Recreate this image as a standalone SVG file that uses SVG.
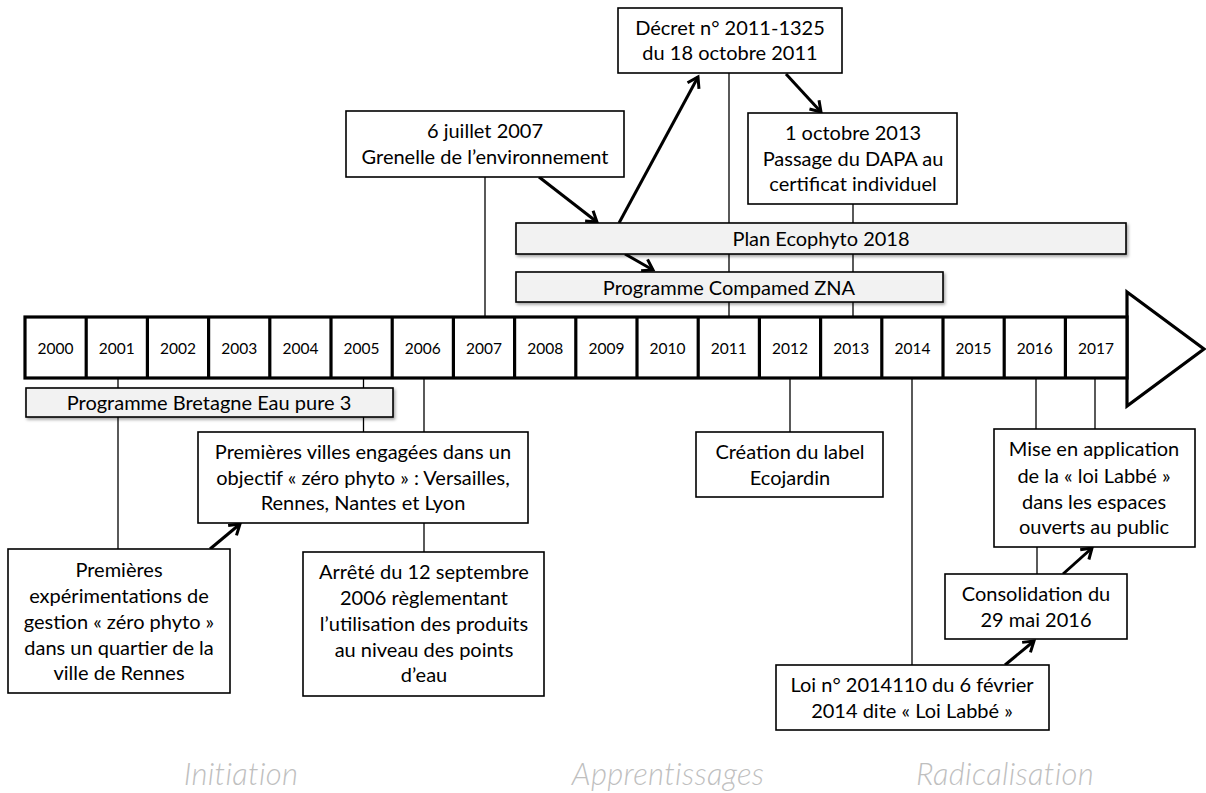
<svg xmlns="http://www.w3.org/2000/svg" width="1206" height="793" viewBox="0 0 1206 793">
<defs>
<style>
.box{fill:#ffffff;stroke:#000;stroke-width:1.6}
.bar{fill:#f2f2f2;stroke:#000;stroke-width:1.6;filter:url(#sh)}
.t{font-family:Lato,"Open Sans","Liberation Sans",sans-serif;font-size:20px;fill:#000;text-anchor:middle}
.y{font-family:Lato,"Open Sans","Liberation Sans",sans-serif;font-size:15.5px;fill:#000;text-anchor:middle}
.ph{font-family:Lato,"Open Sans","Liberation Sans",sans-serif;font-size:31px;font-style:italic;font-weight:300;fill:#bfbfbf;text-anchor:middle;letter-spacing:0.3px}
.c{stroke:#000;stroke-width:1.3;fill:none}
.a{stroke:#000;stroke-width:3;fill:none;marker-end:url(#ah)}
.tl{fill:#fff;stroke:#000;stroke-width:3.2}
</style>
<filter id="sh" x="-5%" y="-30%" width="110%" height="170%">
<feDropShadow dx="1.5" dy="2" stdDeviation="1.5" flood-color="#000" flood-opacity="0.35"/>
</filter>
<marker id="ah" viewBox="0 0 16 16" refX="13" refY="8" markerWidth="16" markerHeight="16" markerUnits="userSpaceOnUse" orient="auto">
<path d="M3,1.5 L13,8 L3,14.5" fill="none" stroke="#000" stroke-width="3" stroke-linejoin="miter"/>
</marker>
</defs>
<rect width="1206" height="793" fill="#ffffff"/>

<g id="connectors">
<line class="c" x1="485" y1="177" x2="485" y2="317"/>
<line class="c" x1="729" y1="73" x2="729" y2="317"/>
<line class="c" x1="853" y1="204" x2="853" y2="317"/>
<line class="c" x1="118" y1="378" x2="118" y2="549"/>
<line class="c" x1="363.5" y1="378" x2="363.5" y2="432"/>
<line class="c" x1="424" y1="378" x2="424" y2="552"/>
<line class="c" x1="790" y1="378" x2="790" y2="432"/>
<line class="c" x1="912" y1="378" x2="912" y2="665"/>
<line class="c" x1="1036" y1="378" x2="1036" y2="429"/>
<line class="c" x1="1095" y1="378" x2="1095" y2="429"/>
<line class="c" x1="1037" y1="547" x2="1037" y2="574"/>
<line class="a" x1="539" y1="177" x2="597" y2="222"/>
<line class="a" x1="619" y1="223" x2="698" y2="77"/>
<line class="a" x1="786" y1="74" x2="821" y2="112"/>
<line class="a" x1="625" y1="254" x2="653" y2="270"/>
<line class="a" x1="210" y1="549" x2="240" y2="524"/>
<line class="a" x1="1005" y1="665" x2="1034" y2="641"/>
<line class="a" x1="1063" y1="574" x2="1092" y2="548"/>
</g>

<g id="timeline">
<polygon class="tl" points="1127,292 1204,349 1127,406"/>
<rect class="tl" x="25" y="317" width="1102" height="61"/>
<g stroke="#000" stroke-width="3.2">
<line x1="86.2" y1="317" x2="86.2" y2="378"/>
<line x1="147.4" y1="317" x2="147.4" y2="378"/>
<line x1="208.6" y1="317" x2="208.6" y2="378"/>
<line x1="269.8" y1="317" x2="269.8" y2="378"/>
<line x1="331" y1="317" x2="331" y2="378"/>
<line x1="392.2" y1="317" x2="392.2" y2="378"/>
<line x1="453.4" y1="317" x2="453.4" y2="378"/>
<line x1="514.6" y1="317" x2="514.6" y2="378"/>
<line x1="575.8" y1="317" x2="575.8" y2="378"/>
<line x1="637" y1="317" x2="637" y2="378"/>
<line x1="698.2" y1="317" x2="698.2" y2="378"/>
<line x1="759.4" y1="317" x2="759.4" y2="378"/>
<line x1="820.6" y1="317" x2="820.6" y2="378"/>
<line x1="881.8" y1="317" x2="881.8" y2="378"/>
<line x1="943" y1="317" x2="943" y2="378"/>
<line x1="1004.2" y1="317" x2="1004.2" y2="378"/>
<line x1="1065.4" y1="317" x2="1065.4" y2="378"/>
</g>
<text class="y" x="55.6" y="353.5">2000</text>
<text class="y" x="116.8" y="353.5">2001</text>
<text class="y" x="178" y="353.5">2002</text>
<text class="y" x="239.2" y="353.5">2003</text>
<text class="y" x="300.4" y="353.5">2004</text>
<text class="y" x="361.6" y="353.5">2005</text>
<text class="y" x="422.8" y="353.5">2006</text>
<text class="y" x="484" y="353.5">2007</text>
<text class="y" x="545.2" y="353.5">2008</text>
<text class="y" x="606.4" y="353.5">2009</text>
<text class="y" x="667.6" y="353.5">2010</text>
<text class="y" x="728.8" y="353.5">2011</text>
<text class="y" x="790" y="353.5">2012</text>
<text class="y" x="851.2" y="353.5">2013</text>
<text class="y" x="912.4" y="353.5">2014</text>
<text class="y" x="973.6" y="353.5">2015</text>
<text class="y" x="1034.8" y="353.5">2016</text>
<text class="y" x="1096" y="353.5">2017</text>
</g>

<g id="decret">
<rect class="box" x="618" y="8" width="224" height="65"/>
<text class="t" x="730" y="35">Décret n° 2011-1325</text>
<text class="t" x="730" y="60">du 18 octobre 2011</text>
</g>
<g id="grenelle">
<rect class="box" x="346" y="111" width="278" height="66"/>
<text class="t" x="485" y="138">6 juillet 2007</text>
<text class="t" x="485" y="164">Grenelle de l’environnement</text>
</g>
<g id="dapa">
<rect class="box" x="748" y="113" width="209" height="91"/>
<text class="t" x="853" y="140">1 octobre 2013</text>
<text class="t" x="853" y="166">Passage du DAPA au</text>
<text class="t" x="853" y="191">certificat individuel</text>
</g>
<g id="ecophyto">
<rect class="bar" x="516" y="223" width="610" height="31"/>
<text class="t" x="821" y="245.5">Plan Ecophyto 2018</text>
</g>
<g id="compamed">
<rect class="bar" x="516" y="272" width="427" height="30"/>
<text class="t" x="729" y="294.5">Programme Compamed ZNA</text>
</g>
<g id="bretagne">
<rect class="bar" x="26" y="388" width="367" height="29"/>
<text class="t" x="209" y="409.5">Programme Bretagne Eau pure 3</text>
</g>
<g id="villes">
<rect class="box" x="198" y="432" width="330" height="91"/>
<text class="t" x="363" y="459">Premières villes engagées dans un</text>
<text class="t" x="363" y="484.5">objectif « zéro phyto » : Versailles,</text>
<text class="t" x="363" y="510">Rennes, Nantes et Lyon</text>
</g>
<g id="experimentations">
<rect class="box" x="8" y="549" width="222" height="144"/>
<text class="t" x="119" y="577">Premières</text>
<text class="t" x="119" y="602.5">expérimentations de</text>
<text class="t" x="119" y="628.5">gestion « zéro phyto »</text>
<text class="t" x="119" y="654.5">dans un quartier de la</text>
<text class="t" x="119" y="680">ville de Rennes</text>
</g>
<g id="arrete">
<rect class="box" x="303" y="552" width="241" height="144"/>
<text class="t" x="424" y="579">Arrêté du 12 septembre</text>
<text class="t" x="424" y="605">2006 règlementant</text>
<text class="t" x="424" y="631">l’utilisation des produits</text>
<text class="t" x="424" y="657">au niveau des points</text>
<text class="t" x="424" y="682">d’eau</text>
</g>
<g id="ecojardin">
<rect class="box" x="696" y="432" width="187" height="65"/>
<text class="t" x="790" y="459">Création du label</text>
<text class="t" x="790" y="484.5">Ecojardin</text>
</g>
<g id="loi">
<rect class="box" x="776" y="665" width="273" height="65"/>
<text class="t" x="912" y="692">Loi n° 2014110 du 6 février</text>
<text class="t" x="912" y="718">2014 dite « Loi Labbé »</text>
</g>
<g id="consolidation">
<rect class="box" x="945" y="574" width="182" height="65"/>
<text class="t" x="1036" y="601">Consolidation du</text>
<text class="t" x="1036" y="626.5">29 mai 2016</text>
</g>
<g id="mise">
<rect class="box" x="994" y="429" width="201" height="118"/>
<text class="t" x="1094" y="456">Mise en application</text>
<text class="t" x="1094" y="483">de la « loi Labbé »</text>
<text class="t" x="1094" y="509">dans les espaces</text>
<text class="t" x="1094" y="534">ouverts au public</text>
</g>

<g id="phases">
<text class="ph" x="241" y="785">Initiation</text>
<text class="ph" x="668" y="785">Apprentissages</text>
<text class="ph" x="1005" y="785">Radicalisation</text>
</g>
</svg>
